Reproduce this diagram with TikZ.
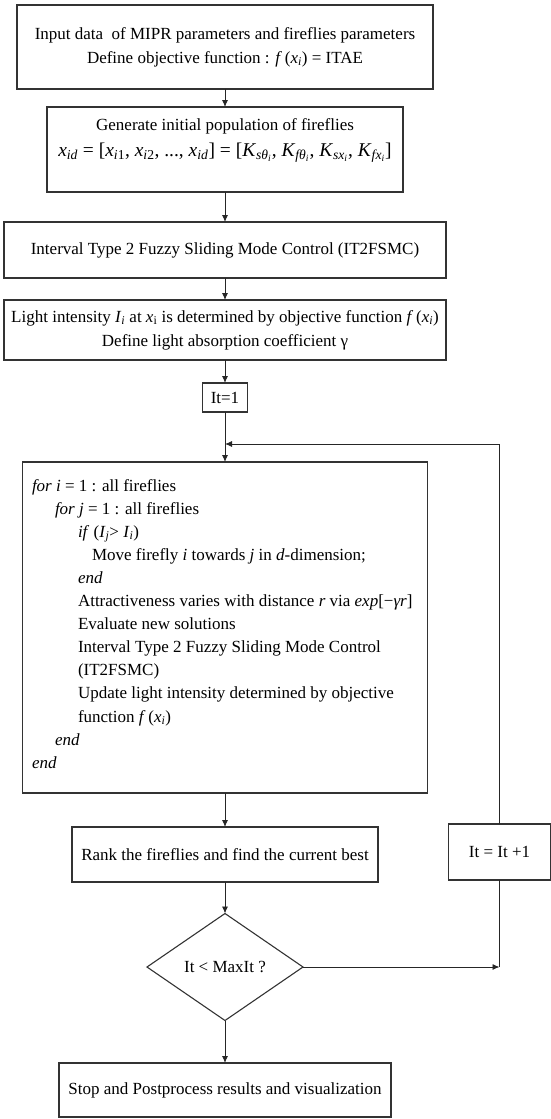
\documentclass[tikz,border=0pt]{standalone}
\usepackage{fontspec}
\setmainfont{Liberation Serif}
\usetikzlibrary{arrows.meta,shapes.geometric}
% italic variable with italic subscript
\newcommand{\vsub}[2]{\textit{#1}\textsubscript{\textit{#2}}}
\begin{document}
\begin{tikzpicture}[x=1pt,y=-1pt,
  every node/.style={font=\fontsize{17}{24}\selectfont, inner sep=0pt, outer sep=0pt},
  box/.style={draw=black!80, line width=1.1pt, rectangle, align=center},
  arr/.style={-{Latex[length=7pt,width=6pt]}, line width=0.9pt, draw=black!85},
  link/.style={line width=0.9pt, draw=black!85},
  code/.style={anchor=base west}]
\useasboundingbox (0,0) rectangle (551,1119);

% main column
\node[box, minimum width=416pt, minimum height=84pt] (inp) at (225,47)
  {Input data~ of MIPR parameters and fireflies parameters\\
   Define objective function : \textit{f}\,(\vsub{x}{i}) = ITAE};

\node[box, minimum width=356pt, minimum height=85pt] (gen) at (225,149.5) {};
\node[anchor=base] (gentxt) at (225,130) {Generate initial population of fireflies};
\node[anchor=base, font=\fontsize{19.5}{24}\selectfont] (genfx) at (225,156)
  {\vsub{x}{id} = [\textit{x}\textsubscript{\textit{i}1}, \textit{x}\textsubscript{\textit{i}2}, ..., \vsub{x}{id}] = [\textit{K}\textsubscript{\textit{sθ}\textsubscript{\textit{i}}}, \textit{K}\textsubscript{\textit{fθ}\textsubscript{\textit{i}}}, \textit{K}\textsubscript{\textit{sx}\textsubscript{\textit{i}}}, \textit{K}\textsubscript{\textit{fx}\textsubscript{\textit{i}}}]};

\node[box, minimum width=442pt, minimum height=56pt] (fsmc) at (225,250)
  {Interval Type 2 Fuzzy Sliding Mode Control (IT2FSMC)};

\node[box, minimum width=442pt, minimum height=60pt] (light) at (225,330)
  {Light intensity \vsub{I}{i} at \textit{x}\textsubscript{i} is determined by objective function \textit{f}\,(\vsub{x}{i})\\
   Define light absorption coefficient γ};

\node[box, minimum width=45pt, minimum height=29pt] (it1) at (225,397.5) {It=1};
\coordinate (join) at (225,444);

% firefly loop body
\node[box, minimum width=405pt, minimum height=331pt] (loop) at (225,627.5) {};
\node[code] (c1)  at (32,491)    {\textit{for i} = 1 : all fireflies};
\node[code] (c2)  at (55,514.1)  {\textit{for j} = 1 : all fireflies};
\node[code] (c3)  at (78,537.2)  {\textit{if} (\vsub{I}{j}> \vsub{I}{i})};
\node[code] (c4)  at (92,560.3)  {Move firefly \textit{i} towards \textit{j} in \textit{d}-dimension;};
\node[code] (c5)  at (78,583.4)  {\textit{end}};
\node[code] (c6)  at (78,606.5)  {Attractiveness varies with distance \textit{r} via \textit{exp}[−\textit{γr}]};
\node[code] (c7)  at (78,629.6)  {Evaluate new solutions};
\node[code] (c8)  at (78,652.7)  {Interval Type 2 Fuzzy Sliding Mode Control};
\node[code] (c9)  at (78,675.8)  {(IT2FSMC)};
\node[code] (c10) at (78,698.9)  {Update light intensity determined by objective};
\node[code] (c11) at (78,722)    {function \textit{f}\,(\vsub{x}{i})};
\node[code] (c12) at (55,745.1)  {\textit{end}};
\node[code] (c13) at (32,768.2)  {\textit{end}};

\node[box, minimum width=306pt, minimum height=55pt] (rank) at (225,854.5)
  {Rank the fireflies and find the current best};

\node[diamond, draw=black!80, line width=1.1pt, minimum width=156pt, minimum height=107pt, aspect=1.46] (dec) at (225,967)
  {It < MaxIt ?};

\node[box, minimum width=102pt, minimum height=56pt] (inc) at (499.5,852) {It = It +1};

\node[box, minimum width=332pt, minimum height=54pt] (stop) at (225,1090)
  {Stop and Postprocess results and visualization};

% connectors
\draw[arr] (inp) -- (gen);
\draw[arr] (gen) -- (fsmc);
\draw[arr] (fsmc) -- (light);
\draw[arr] (light) -- (it1);
\draw[arr] (it1) -- (loop);
\draw[arr] (loop) -- (rank);
\draw[arr] (rank) -- (dec);
\draw[arr] (dec) -- (stop);
\draw[arr] (dec.east) -- (dec.east -| inc.south);
\draw[link] (dec.east -| inc.south) -- (inc.south);
\draw[arr] (inc.north) |- (join);
\end{tikzpicture}
\end{document}
